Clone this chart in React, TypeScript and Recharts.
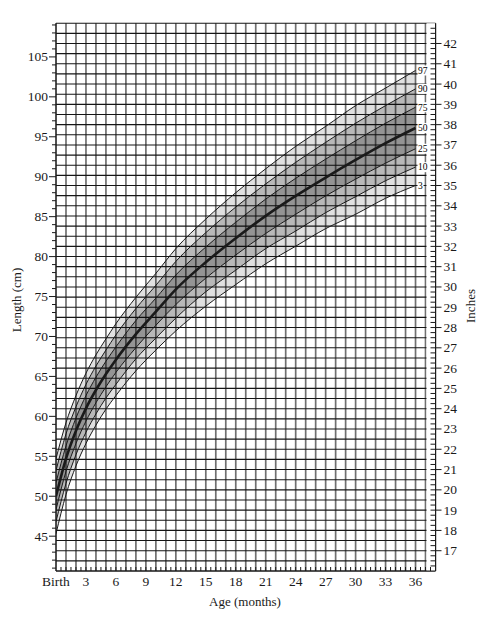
import React from "react";
import { Area, CartesianGrid, ComposedChart, Line, ReferenceArea, XAxis, YAxis } from "recharts";

// length-for-age percentiles (cm)
const ages = [0, 1, 2, 3, 4, 5, 6, 8, 10, 12, 15, 18, 21, 24, 27, 30, 33, 36];
const p3 = [45.3, 50.2, 53.8, 56.6, 58.9, 60.9, 62.6, 65.7, 68.3, 70.7, 73.8, 76.5, 79.1, 81.3, 83.5, 85.3, 87.3, 88.9];
const p10 = [46.8, 51.6, 55.2, 58.0, 60.3, 62.3, 64.0, 67.2, 69.8, 72.3, 75.6, 78.3, 81.0, 83.2, 85.5, 87.5, 89.5, 91.2];
const p25 = [48.3, 53.1, 56.6, 59.4, 61.7, 63.7, 65.5, 68.6, 71.4, 74.0, 77.3, 80.2, 82.9, 85.3, 87.6, 89.7, 91.7, 93.5];
const p50 = [50.0, 54.7, 58.2, 61.0, 63.3, 65.3, 67.1, 70.3, 73.1, 75.9, 79.3, 82.3, 85.1, 87.6, 89.9, 92.1, 94.2, 96.1];
const p75 = [51.7, 56.3, 59.8, 62.6, 64.9, 66.9, 68.7, 72.0, 74.8, 77.7, 81.2, 84.3, 87.2, 89.8, 92.2, 94.5, 96.7, 98.7];
const p90 = [53.2, 57.8, 61.2, 64.0, 66.3, 68.3, 70.2, 73.5, 76.4, 79.4, 83.0, 86.2, 89.1, 91.8, 94.3, 96.7, 98.9, 101.0];
const p97 = [54.7, 59.2, 62.6, 65.4, 67.7, 69.7, 71.6, 74.9, 77.9, 81.0, 84.7, 88.0, 91.0, 93.8, 96.3, 98.9, 101.1, 103.3];

const monthLabels = [0, 3, 6, 9, 12, 15, 18, 21, 24, 27, 30, 33, 36];
const cmLabels = [45, 50, 55, 60, 65, 70, 75, 80, 85, 90, 95, 100, 105];
const inchLabels = [17, 18, 19, 20, 21, 22, 23, 24, 25, 26, 27, 28, 29, 30, 31, 32, 33, 34, 35, 36, 37, 38, 39, 40, 41, 42];

const halfMonthTicks = Array.from({ length: 77 }, (_, i) => i / 2);
const gridMonths = Array.from({ length: 38 }, (_, i) => i);
const cmTicks = Array.from({ length: 69 }, (_, i) => 41 + i);
const quarterInchTicks = Array.from({ length: 109 }, (_, i) => 16 + i / 4);
const halfInchTicks = Array.from({ length: 55 }, (_, i) => 16 + i / 2);

const rows = ages.map((age, i) => ({
  age,
  p3: p3[i],
  p10: p10[i],
  p25: p25[i],
  p50: p50[i],
  p75: p75[i],
  p90: p90[i],
  p97: p97[i],
  outerLow: [p3[i], p10[i]],
  midLow: [p10[i], p25[i]],
  inner: [p25[i], p75[i]],
  midHigh: [p75[i], p90[i]],
  outerHigh: [p90[i], p97[i]],
}));

const FONT = "'Liberation Serif', 'DejaVu Serif', serif";
const INK = "#1a1a1a";

const LeftTick = (props: any) => {
  const { x, y, payload } = props;
  const v = payload.value;
  const major = cmLabels.includes(v);
  return (
    <g>
      <line x1={x - (major ? 7 : 4)} x2={x} y1={y} y2={y} stroke={INK} strokeWidth={1} />
      {major && (
        <text x={x - 8} y={y + 4.5} textAnchor="end" fontSize={13.5} fontFamily={FONT} fill={INK}>
          {v}
        </text>
      )}
    </g>
  );
};

const RightTick = (props: any) => {
  const { x, y, payload } = props;
  const v = payload.value;
  const major = inchLabels.includes(v);
  if (v === 16 || v === 43) return <g />;
  return (
    <g>
      <line x1={x - 5} x2={x} y1={y} y2={y} stroke={INK} strokeWidth={1} />
      {major && <line x1={x} x2={x + 6} y1={y} y2={y} stroke={INK} strokeWidth={1} />}
      {major && (
        <text x={x + 8} y={y + 4.5} textAnchor="start" fontSize={13.5} fontFamily={FONT} fill={INK}>
          {v}
        </text>
      )}
    </g>
  );
};

const BottomTick = (props: any) => {
  const { x, y, payload } = props;
  const v = payload.value;
  const label = monthLabels.includes(v) ? (v === 0 ? "Birth" : String(v)) : null;
  return (
    <g>
      {v > 0 && v < 38 && <line x1={x} x2={x} y1={y - 4} y2={y} stroke={INK} strokeWidth={1} />}
      {label && (
        <text x={x} y={y + 15} textAnchor="middle" fontSize={13.5} fontFamily={FONT} fill={INK}>
          {label}
        </text>
      )}
    </g>
  );
};

// percentile name drawn just past the last point of each curve
const endDot = (name: string) => (props: any) => {
  const { cx, cy, index } = props;
  if (index !== ages.length - 1) return <g key={`d-${name}-${index}`} />;
  return (
    <g key={`d-${name}-${index}`}>
      <rect x={cx + 2} y={cy - 5} width={name.length * 5 + 1} height={10} fill="#fff" />
      <text x={cx + 2.5} y={cy + 3.3} fontSize={9.5} fontFamily={FONT} fill="#000" stroke="none">
        {name}
      </text>
    </g>
  );
};

const bands = [
  { key: "outerLow", opacity: 0.12 },
  { key: "midLow", opacity: 0.28 },
  { key: "inner", opacity: 0.42 },
  { key: "midHigh", opacity: 0.28 },
  { key: "outerHigh", opacity: 0.12 },
];

const lines = [
  { key: "p3", name: "3", width: 1 },
  { key: "p10", name: "10", width: 1 },
  { key: "p25", name: "25", width: 1 },
  { key: "p50", name: "50", width: 2.6 },
  { key: "p75", name: "75", width: 1 },
  { key: "p90", name: "90", width: 1 },
  { key: "p97", name: "97", width: 1 },
];

const titleStyle: React.CSSProperties = {
  position: "absolute",
  fontFamily: FONT,
  fontSize: 13,
  color: INK,
  whiteSpace: "nowrap",
};

export default function App() {
  return (
    <div style={{ position: "absolute", left: 0, top: 0, width: 495, height: 618, background: "#fff" }}>
      <ComposedChart width={495} height={618} data={rows} margin={{ top: 23.2, right: 9.5, bottom: 17, left: 16 }}>
        <XAxis
          dataKey="age"
          type="number"
          domain={[0, 38]}
          ticks={halfMonthTicks}
          interval={0}
          allowDataOverflow
          tick={<BottomTick />}
          tickLine={false}
          tickSize={0}
          tickMargin={0}
          height={30}
          axisLine={{ stroke: INK, strokeWidth: 1 }}
        />
        <XAxis
          xAxisId="g"
          dataKey="age"
          type="number"
          domain={[0, 38]}
          ticks={gridMonths}
          interval={0}
          allowDataOverflow
          hide
        />
        <YAxis
          type="number"
          domain={[40.64, 109.22]}
          ticks={cmTicks}
          interval={0}
          allowDataOverflow
          tick={<LeftTick />}
          tickLine={false}
          tickSize={0}
          tickMargin={0}
          width={40}
          axisLine={{ stroke: INK, strokeWidth: 1 }}
        />
        <YAxis
          yAxisId="in"
          orientation="right"
          type="number"
          domain={[16, 43]}
          ticks={quarterInchTicks}
          interval={0}
          allowDataOverflow
          tick={<RightTick />}
          tickLine={false}
          tickSize={0}
          tickMargin={0}
          width={50}
          axisLine={{ stroke: INK, strokeWidth: 1 }}
        />
        <YAxis yAxisId="g" type="number" domain={[16, 43]} ticks={halfInchTicks} interval={0} allowDataOverflow hide />
        <CartesianGrid xAxisId="g" yAxisId="g" horizontal={false} stroke="#707070" strokeWidth={1.7} />
        <CartesianGrid xAxisId="g" yAxisId="g" vertical={false} stroke="#161616" strokeWidth={1.1} />
        <ReferenceArea x1={37.1} x2={38} fill="#fff" fillOpacity={1} stroke="none" />
        {bands.map((b) => (
          <Area
            key={b.key}
            dataKey={b.key}
            type="monotone"
            stroke="none"
            fill="#000"
            fillOpacity={b.opacity}
            isAnimationActive={false}
            activeDot={false}
          />
        ))}
        {lines.map((l) => (
          <Line
            key={l.key}
            dataKey={l.key}
            type="monotone"
            stroke={INK}
            strokeWidth={l.width}
            dot={endDot(l.name)}
            activeDot={false}
            isAnimationActive={false}
          />
        ))}
      </ComposedChart>
      <div style={{ ...titleStyle, left: 17, top: 300, transform: "translate(-50%, -50%) rotate(-90deg)" }}>
        Length (cm)
      </div>
      <div style={{ ...titleStyle, left: 471, top: 306, transform: "translate(-50%, -50%) rotate(-90deg)" }}>
        Inches
      </div>
      <div style={{ ...titleStyle, left: 245, top: 602, transform: "translate(-50%, -50%)" }}>Age (months)</div>
    </div>
  );
}
